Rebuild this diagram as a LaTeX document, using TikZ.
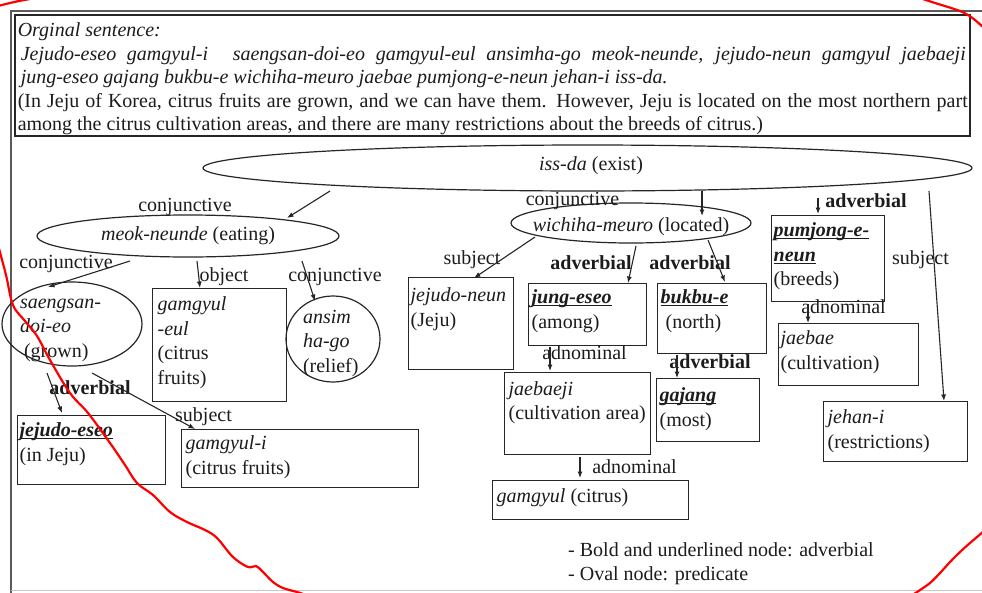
\documentclass[tikz,border=0pt]{standalone}
\usepackage{fontspec}
\setmainfont{Liberation Serif}
\usetikzlibrary{shapes.geometric,calc,arrows.meta}

\definecolor{ink}{HTML}{1C1C1C}
\definecolor{edge}{HTML}{262626}
\definecolor{framegray}{HTML}{5A5A5A}
\definecolor{scribble}{HTML}{FF0000}

% text inside a drawn box: width, height, first baseline, left pad, lines
\newcommand{\boxtxt}[5]{\parbox[t][#2pt][t]{#1pt}{\raggedright\leftskip=#4pt\hyphenpenalty=10000\exhyphenpenalty=10000\rule{0pt}{#3pt}#5}}
% one line centred in an oval, baseline moved by #1
\newcommand{\ovalone}[2]{\raisebox{#1pt}[0pt][0pt]{\makebox[0pt]{#2}}}
% left-aligned lines in an oval: x offset, raise of first baseline, lines
\newcommand{\ovallines}[3]{\raisebox{#2pt}[0pt][0pt]{\makebox[0pt][l]{\hspace*{#1pt}\parbox[t]{150pt}{\raggedright #3}}}}
% bold italic word with an underline crossing the descenders
\newcommand{\advword}[1]{\leavevmode\setbox0\hbox{\bfseries\itshape #1}\rlap{\rule[-2.5pt]{\wd0}{1pt}}\box0}

\begin{document}
\begin{tikzpicture}[x=1pt,y=-1pt,
  every node/.style={font=\fontsize{20}{24.5}\selectfont, text=ink},
  wordbox/.style={draw=edge, line width=1.3pt, inner sep=0pt, anchor=north west},
  oval/.style={draw=edge, line width=1.2pt, ellipse, inner sep=0pt},
  rel/.style={inner sep=0pt, anchor=base},
  link/.style={draw=edge, line width=1.1pt, -{Latex[length=6.5pt,width=5pt]}},
  scrawl/.style={draw=scribble, line width=2.2pt, line cap=round, line join=round}]

\fill[white] (0,0) rectangle (982,592);
\useasboundingbox (0,0) rectangle (982,592);

% page frame
\draw[framegray, line width=2pt] (10.5,600) -- (10.5,10.5) -- (990,10.5);
\draw[black!22, line width=1pt] (10.5,590.5) -- (990,590.5);

% sentence box
\node[wordbox, line width=1.5pt] (sentence) at (14,14) {\boxtxt{955}{121}{22}{3}{\fontsize{20}{23.5}\selectfont
  \textit{Orginal sentence:}\\
  \hspace*{3pt}\makebox[945pt][s]{\itshape Jejudo-eseo gamgyul-i\hspace{14pt} saengsan-doi-eo gamgyul-eul ansimha-go meok-neunde, jejudo-neun gamgyul jaebaeji}\\
  \hspace*{3pt}\textit{jung-eseo gajang bukbu-e wichiha-meuro jaebae pumjong-e-neun jehan-i iss-da.}\\
  \makebox[950pt][s]{(In Jeju of Korea, citrus fruits are grown, and we can have them. However, Jeju is located on the most northern part}\\
  among the citrus cultivation areas, and there are many restrictions about the breeds of citrus.)}};

% predicates
\node[oval, minimum width=769pt, minimum height=46pt] (issda) at (587.5,168) {\ovalone{-2}{\hspace*{7pt}\textit{iss-da} (exist)}};
\node[oval, minimum width=302pt, minimum height=42pt] (meok) at (188,236) {\ovalone{-4}{\textit{meok-neunde} (eating)}};
\node[oval, minimum width=240pt, minimum height=40pt] (wich) at (631,223) {\ovalone{-8}{\textit{wichiha-meuro} (located)}};
\node[oval, minimum width=140pt, minimum height=84pt] (saeng) at (72,324) {\ovallines{-52}{16}{\textit{saengsan-}\\\textit{doi-eo}\\\hspace*{4pt}(grown)}};
\node[oval, minimum width=94pt, minimum height=86pt] (ansim) at (333,339) {\ovallines{-30}{16}{\textit{ansim}\\\textit{ha-go}\\(relief)}};

% word boxes
\node[wordbox] (geul) at (152,288) {\boxtxt{134}{113}{22}{5}{\textit{gamgyul}\\\textit{-eul}\\(citrus\\fruits)}};
\node[wordbox] (eseo) at (17,415) {\boxtxt{148}{69}{21}{2}{\advword{jejudo-eseo}\\(in~Jeju)}};
\node[wordbox] (gami) at (181,429) {\boxtxt{237}{58}{20}{4}{\textit{gamgyul-i}\\(citrus~fruits)}};
\node[wordbox] (neun) at (408,277) {\boxtxt{105}{92}{24}{2}{\textit{jejudo-neun}\\(Jeju)}};
\node[wordbox] (jung) at (528,283) {\boxtxt{118}{62}{20}{3}{\advword{jung-eseo}\\(among)}};
\node[wordbox] (bukbu) at (657,283) {\boxtxt{109}{70}{20}{3}{\advword{bukbu-e}\\\hspace*{5pt}(north)}};
\node[wordbox] (pum) at (771,215) {\boxtxt{113}{86}{21}{2}{\advword{pumjong-e-}\\\advword{neun}\\(breeds)}};
\node[wordbox] (jaebae) at (778,323) {\boxtxt{140}{62}{21}{2}{\textit{jaebae}\\(cultivation)}};
\node[wordbox] (jehan) at (823,401) {\boxtxt{144}{60}{22}{4}{\textit{jehan-i}\\(restrictions)}};
\node[wordbox] (area) at (504,372) {\boxtxt{146}{82}{22.5}{4}{\textit{jaebaeji}\\(cultivation~area)}};
\node[wordbox] (gajang) at (656,378) {\boxtxt{103}{63}{23}{3}{\advword{gajang}\\(most)}};
\node[wordbox] (citrus) at (492,480) {\boxtxt{196}{39}{21.7}{4}{\textit{gamgyul}~(citrus)}};

% relation labels
\node[rel] (lA) at (185,211) {conjunctive};
\node[rel] (lB) at (66,268) {conjunctive};
\node[rel] (lC) at (224,281) {object};
\node[rel] (lD) at (335,281) {conjunctive};
\node[rel] (lE) at (90,394) {\textbf{adverbial}};
\node[rel] (lF) at (203.5,421) {subject};
\node[rel] (lG) at (572.5,205) {conjunctive};
\node[rel] (lH) at (472,264) {subject};
\node[rel] (lI) at (591,269) {\textbf{adverbial}};
\node[rel] (lJ) at (690,269) {\textbf{adverbial}};
\node[rel] (lK) at (866,207) {\textbf{adverbial}};
\node[rel] (lL) at (920.5,264) {subject};
\node[rel] (lM) at (843.5,313) {adnominal};
\node[rel] (lN) at (584.5,359) {adnominal};
\node[rel] (lO) at (710,368) {\textbf{adverbial}};
\node[rel] (lP) at (634.5,473) {adnominal};

% legend
\node[inner sep=0pt, anchor=north west] (legend) at (568,535) {\parbox[t]{400pt}{\rule{0pt}{21pt}- Bold and underlined node: adverbial\\- Oval node: predicate}};

% dependency arrows
\draw[link] ($(issda)+(-257.5,23)$) -- ($(meok)+(99,-18)$);
\draw[link] ($(meok)+(-58,25)$) -- ($(saeng)+(-24,-37)$);
\draw[link] ($(meok)+(9,25)$) -- ($(geul.north west)+(48,0)$);
\draw[link] ($(meok)+(114,25)$) -- ($(ansim)+(-18,-38)$);
\draw[link] ($(saeng)+(-25,49)$) -- ($(eseo.north west)+(45,-2)$);
\draw[link] ($(saeng)+(20,49)$) -- ($(gami.north west)+(14,0)$);
\draw[link] ($(issda)+(114.5,23)$) -- ($(wich)+(71,-7)$);
\draw[link] ($(wich)+(-96,14)$) -- ($(neun.north west)+(66,1)$);
\draw[link] ($(wich)+(5,23)$) -- ($(jung.north west)+(100,0)$);
\draw[link] ($(wich)+(77,17)$) -- ($(bukbu.north west)+(68,-1)$);
\coordinate (advtop) at ($(pum.north west)+(47,-17)$);
\draw[link] (advtop) -- ($(pum.north west)+(47,-1)$);
\draw[link] ($(issda)+(341.5,23)$) -- ($(jehan.north west)+(121,0)$);
\draw[link] ($(pum.south west)+(37,2)$) -- ($(jaebae.north west)+(30,0)$);
\draw[link] ($(jung.south west)+(22,1)$) -- ($(area.north west)+(46,-1)$);
\draw[link] ($(bukbu.south west)+(20,1)$) -- ($(gajang.north west)+(21,0)$);
\draw[link] ($(area.south west)+(76,2)$) -- ($(citrus.north west)+(88,-2)$);

% red pen strokes
\draw[scrawl] plot[smooth] coordinates {(-2,6) (10,3) (20,0.8) (30,-1)};
\draw[scrawl] plot[smooth] coordinates {(920,-2) (935,3) (948,7) (960,11) (968,15) (975,20) (984,28)};
\draw[scrawl] plot[smooth, tension=0.6] coordinates {(-2,245) (6,275) (13,305) (25,321) (37,336) (50,360) (70,393) (88,413) (110,443) (125,465) (137,483) (153,495) (170,512) (187,522) (205,530) (217,538) (233,557) (248,567) (256,566) (263,572) (273,582) (283,588) (297,592) (306,595)};
\draw[scrawl] plot[smooth] coordinates {(984,531) (970,543) (960,552) (950,562) (940,573) (930,583) (917,592) (911,596)};
\end{tikzpicture}
\end{document}
